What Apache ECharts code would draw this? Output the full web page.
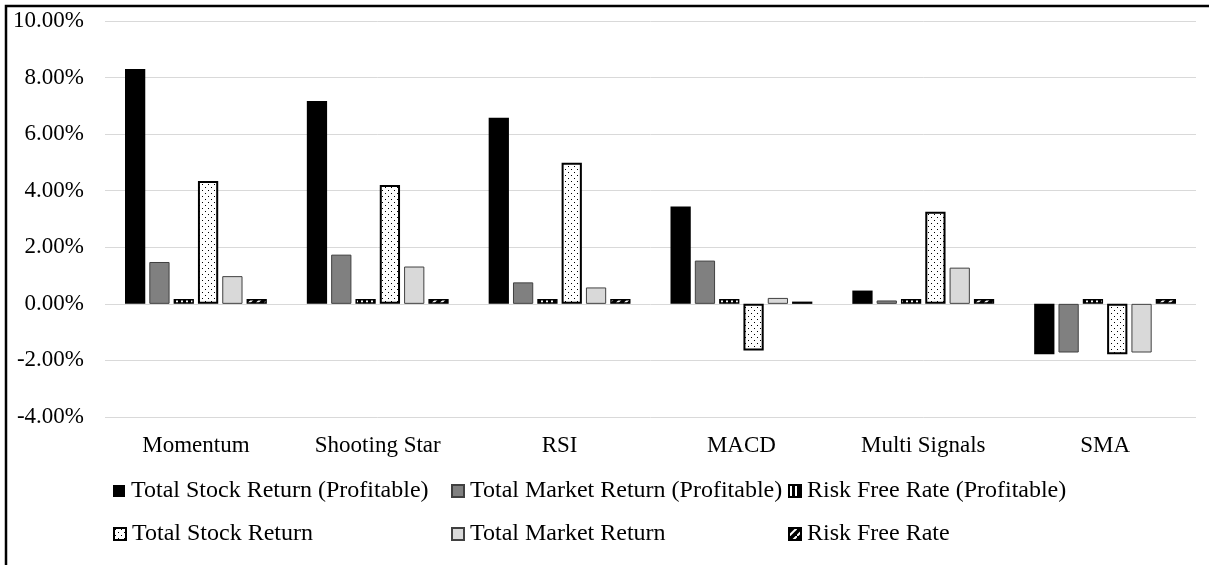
<!DOCTYPE html>
<html>
<head>
<meta charset="utf-8">
<script src="https://cdn.jsdelivr.net/npm/echarts@6/dist/echarts.min.js"></script>
<style>
html,body{margin:0;padding:0;background:#fff;}
#chart{width:1209px;height:565px;}
</style>
</head>
<body>
<div id="chart"></div>
<script>
const categories = ['Momentum', 'Shooting Star', 'RSI', 'MACD', 'Multi Signals', 'SMA'];
const seriesNames = [
  'Total Stock Return (Profitable)',
  'Total Market Return (Profitable)',
  'Risk Free Rate (Profitable)',
  'Total Stock Return',
  'Total Market Return',
  'Risk Free Rate'
];
const stockReturnProfitable  = [8.30, 7.17, 6.58, 3.44, 0.47, -1.78];
const marketReturnProfitable = [1.48, 1.74, 0.76, 1.53, 0.12, -1.72];
const riskFreeProfitable     = [0.17, 0.17, 0.17, 0.17, 0.17, 0.17];
const stockReturn            = [4.34, 4.20, 4.99, -1.65, 3.26, -1.78];
const marketReturn           = [0.98, 1.32, 0.58, 0.21, 1.28, -1.72];
const riskFree               = [0.17, 0.17, 0.17, 0.08, 0.17, 0.17];
const yTicks = { min: -4, max: 10, interval: 2 };

function makePattern(w, h, draw) {
  const c = document.createElement('canvas');
  c.width = w; c.height = h;
  const ctx = c.getContext('2d');
  draw(ctx, w, h);
  return { image: c, repeat: 'repeat' };
}
const dotPattern = makePattern(6, 6, (ctx) => {
  ctx.fillStyle = '#fff'; ctx.fillRect(0, 0, 6, 6);
  ctx.fillStyle = '#000';
  ctx.fillRect(1, 1, 1, 1);
  ctx.fillRect(4, 4, 1, 1);
});
const vStripePattern = makePattern(5, 5, (ctx) => {
  ctx.fillStyle = '#000'; ctx.fillRect(0, 0, 5, 5);
  ctx.fillStyle = '#fff'; ctx.fillRect(1, 0, 2, 5);
});
const diagPattern = makePattern(8, 8, (ctx) => {
  ctx.fillStyle = '#000'; ctx.fillRect(0, 0, 8, 8);
  ctx.strokeStyle = '#fff'; ctx.lineWidth = 2;
  ctx.beginPath();
  ctx.moveTo(-1, 9); ctx.lineTo(9, -1);
  ctx.stroke();
});

const FONT = '"Liberation Serif", "Times New Roman", serif';
const styles = [
  { color: '#000000', borderColor: '#000000', borderWidth: 0 },
  { color: '#808080', borderColor: '#404040', borderWidth: 1 },
  { color: vStripePattern, borderColor: '#000000', borderWidth: 1.5 },
  { color: dotPattern, borderColor: '#000000', borderWidth: 2 },
  { color: '#d9d9d9', borderColor: '#404040', borderWidth: 1 },
  { color: diagPattern, borderColor: '#000000', borderWidth: 1.5 }
];
const dataSets = [stockReturnProfitable, marketReturnProfitable, riskFreeProfitable, stockReturn, marketReturn, riskFree];

const series = seriesNames.map((name, i) => ({
  name: name,
  type: 'bar',
  data: dataSets[i],
  barGap: '20%',
  barCategoryGap: '22%',
  itemStyle: styles[i],
  emphasis: { disabled: true }
}));

const legendLefts = [113, 451, 788];
const legendTops = [479, 522];
const legends = seriesNames.map((name, i) => ({
  data: [{ name: name, icon: 'rect' }],
  left: legendLefts[i % 3],
  top: legendTops[Math.floor(i / 3)],
  itemWidth: 12,
  itemHeight: 12,
  padding: 0,
  selectedMode: false,
  textStyle: { fontFamily: FONT, fontSize: 24, color: '#000', padding: [0, 0, 0, 1] }
}));

const chart = echarts.init(document.getElementById('chart'), null, { renderer: 'canvas' });
chart.setOption({
  animation: false,
  backgroundColor: '#fff',
  graphic: [{
    type: 'rect',
    shape: { x: 6, y: 6, width: 1400, height: 800 },
    style: { fill: 'none', stroke: '#000', lineWidth: 2.5 },
    silent: true
  }],
  grid: { left: 105, right: 13, top: 21, bottom: 148 },
  legend: legends,
  xAxis: {
    type: 'category',
    data: categories,
    axisLine: { show: false },
    axisTick: { show: false },
    axisLabel: { fontFamily: FONT, fontSize: 23, color: '#000', margin: 17 }
  },
  yAxis: {
    type: 'value',
    min: yTicks.min,
    max: yTicks.max,
    interval: yTicks.interval,
    axisLine: { show: false },
    axisTick: { show: false },
    splitLine: { lineStyle: { color: '#d9d9d9', width: 1 } },
    axisLabel: {
      fontFamily: FONT, fontSize: 23, color: '#000', margin: 21,
      formatter: (v) => v.toFixed(2) + '%'
    }
  },
  series: series
});
</script>
</body>
</html>
